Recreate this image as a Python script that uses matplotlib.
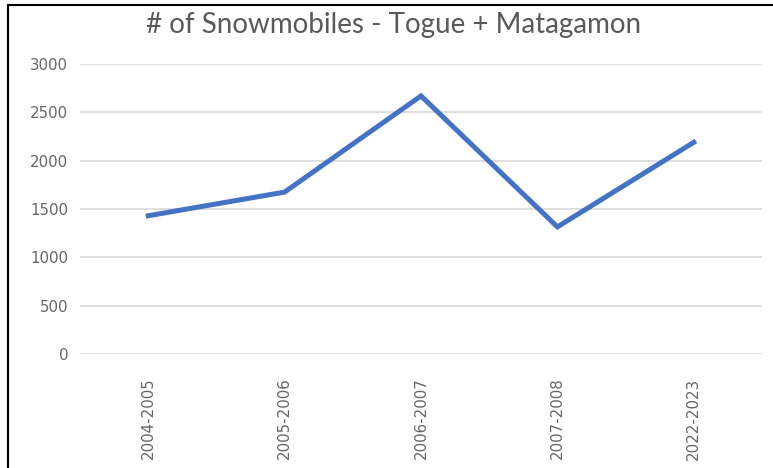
import matplotlib.pyplot as plt
from matplotlib.lines import Line2D

# Data
seasons = ['2004-2005', '2005-2006', '2006-2007', '2007-2008', '2022-2023']
snowmobiles = [1430, 1675, 2670, 1315, 2190]
y_ticks = [0, 500, 1000, 1500, 2000, 2500, 3000]

plt.rcParams['font.family'] = ['DejaVu Sans']

fig = plt.figure(figsize=(7.73, 4.68), dpi=100)
ax = fig.add_axes([80 / 773, 1 - 354 / 468, 682 / 773, 290 / 468])

x = range(len(seasons))
ax.plot(x, snowmobiles, color='#4472C4', linewidth=3.6, solid_joinstyle='miter')

ax.set_xlim(-0.5, len(seasons) - 0.5)
ax.set_ylim(0, 3000)
ax.set_yticks(y_ticks)
ax.set_xticks(list(x))
ax.set_xticklabels(seasons, rotation=90)
ax.grid(axis='y', color='#D9D9D9', linewidth=1.2)
ax.set_axisbelow(True)
for s in ax.spines.values():
    s.set_visible(False)
ax.tick_params(axis='both', length=0, colors='#666666', labelsize=10.8)
ax.tick_params(axis='y', pad=8.5)
ax.tick_params(axis='x', pad=17)

fig.text(394 / 773, 1 - 25 / 468, '# of Snowmobiles - Togue + Matagamon',
         ha='center', va='center', fontsize=20, color='#595959', family=['Lato', 'DejaVu Sans'])

# frame lines from the screenshot (left and top edges)
fig.add_artist(Line2D([8 / 773, 8 / 773], [0, 1 - 5 / 468], transform=fig.transFigure,
                      color='black', linewidth=1.5))
fig.add_artist(Line2D([8 / 773, 1], [1 - 5 / 468, 1 - 5 / 468], transform=fig.transFigure,
                      color='black', linewidth=1.5))

fig.savefig('out.png', dpi=100)
